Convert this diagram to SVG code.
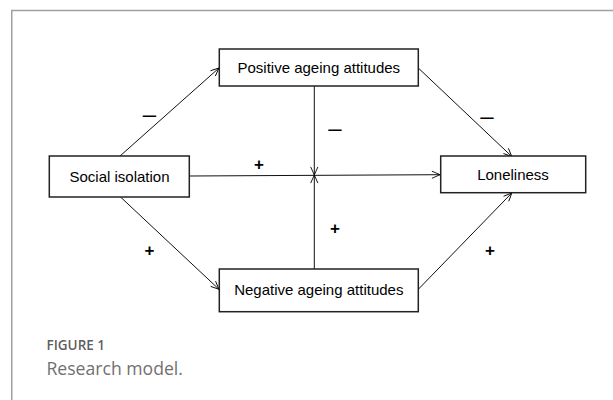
<svg xmlns="http://www.w3.org/2000/svg" width="613" height="400" viewBox="0 0 613 400">
<defs>
<marker id="arr" viewBox="0 0 10 10" refX="10" refY="5" markerWidth="9" markerHeight="9" markerUnits="userSpaceOnUse" orient="auto">
<path d="M1,1 L10,5 L1,9" fill="none" stroke="#000" stroke-width="1"/>
</marker>
<style>
.box{fill:#fff;stroke:#222;stroke-width:1.5}
.lbl{font-family:"Liberation Sans",Arial,sans-serif;font-size:15px;fill:#000;text-anchor:middle}
.sign{font-family:"Liberation Sans",Arial,sans-serif;font-size:17px;font-weight:bold;fill:#000;text-anchor:middle}
.dash{font-family:"Liberation Sans",Arial,sans-serif;font-size:24px;fill:#000;text-anchor:middle}
.edge{fill:none;stroke:#111;stroke-width:1}
</style>
</defs>
<rect width="613" height="400" fill="#fff"/>
<path d="M11.75,400 V10.5 H613" fill="none" stroke="#a0a0a0" stroke-width="1.5"/>
<g id="connectors">
<path class="edge" d="M120,156 L219,68" marker-end="url(#arr)"/>
<path class="edge" d="M120.5,197 L219,289.3" marker-end="url(#arr)"/>
<path class="edge" d="M189.3,176 L440,174.7" marker-end="url(#arr)"/>
<path class="edge" d="M418.3,68 L511.8,156.5" marker-end="url(#arr)"/>
<path class="edge" d="M418.3,289.3 L511.8,193" marker-end="url(#arr)"/>
<path class="edge" d="M314.3,86 V175" marker-end="url(#arr)"/>
<path class="edge" d="M314.3,269 V175" marker-end="url(#arr)"/>
<text class="dash" x="149.5" y="121.5">–</text>
<text class="dash" x="335" y="135.5">–</text>
<text class="dash" x="487" y="123.5">–</text>
<text class="sign" x="259" y="170">+</text>
<text class="sign" x="149.5" y="256">+</text>
<text class="sign" x="335" y="234">+</text>
<text class="sign" x="490" y="256">+</text>
</g>
<g id="positive">
<rect class="box" x="219.3" y="49" width="199" height="37"/>
<text class="lbl" x="318.8" y="72.5">Positive ageing attitudes</text>
</g>
<g id="social">
<rect class="box" x="49.3" y="156" width="140" height="41"/>
<text class="lbl" x="119.5" y="181.5">Social isolation</text>
</g>
<g id="loneliness">
<rect class="box" x="440.7" y="156" width="145" height="36.7"/>
<text class="lbl" x="513" y="179.5">Loneliness</text>
</g>
<g id="negative">
<rect class="box" x="219.3" y="269" width="199" height="42.7"/>
<text class="lbl" x="318.8" y="295">Negative ageing attitudes</text>
</g>
<g id="caption">
<text x="46.5" y="349.5" font-family="'Open Sans',sans-serif" font-size="13.5" font-weight="600" fill="#5f5f5f">FIGURE 1</text>
<text x="46.5" y="374.5" font-family="'Open Sans',sans-serif" font-size="17.6" fill="#707070">Research model.</text>
</g>
</svg>
